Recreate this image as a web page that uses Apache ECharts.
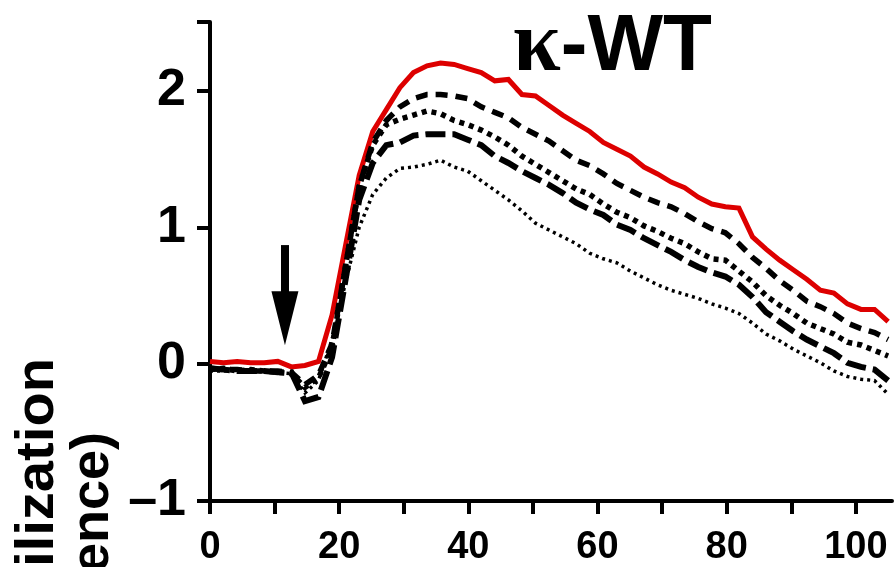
<!DOCTYPE html>
<html><head><meta charset="utf-8">
<script src="https://cdn.jsdelivr.net/npm/echarts@6/dist/echarts.min.js"></script>
<style>html,body{margin:0;padding:0;background:#fff}#c{width:895px;height:567px}</style>
</head><body><div id="c"></div>
<script>
// time (s)
const times = [0,2.1,4.2,6.3,8.4,10.5,12.6,14.7,16.8,18.9,21,23.1,25.2,27.3,29.4,31.5,33.6,35.7,37.8,39.9,42,44.1,46.2,48.3,50.4,52.5,54.6,56.7,58.8,60.9,63,65.1,67.2,69.3,71.4,73.5,75.6,77.7,79.8,81.9,84,86.1,88.2,90.3,92.4,94.5,96.6,98.7,100.8,102.9,105];
const redSolid = [0.02,0.01,0.02,0.01,0.01,0.02,-0.02,-0.01,0.02, 0.36,0.87,1.38,1.70,1.86,2.02,2.13,2.18,2.20,2.19, 2.16,2.13,2.07,2.08,1.97,1.96,1.89,1.82,1.76,1.70, 1.62,1.57,1.52,1.44,1.39,1.33,1.29,1.22,1.17,1.15, 1.14,0.93,0.84,0.76,0.69,0.62,0.54,0.52,0.44,0.40, 0.40,0.31];
const shortDash = [-0.03,-0.04,-0.04,-0.05,-0.05,-0.05,-0.06,-0.15,-0.08, 0.15,0.72,1.30,1.62,1.78,1.88,1.94,1.97,1.97,1.96, 1.94,1.88,1.84,1.80,1.73,1.68,1.63,1.56,1.49,1.45, 1.39,1.32,1.27,1.22,1.18,1.15,1.10,1.04,0.99,0.96, 0.88,0.78,0.70,0.61,0.54,0.46,0.42,0.37,0.30,0.26, 0.23,0.18];
const squareDot = [-0.04,-0.03,-0.05,-0.04,-0.05,-0.06,-0.07,-0.17,-0.10, 0.12,0.72,1.30,1.60,1.75,1.79,1.82,1.85,1.83,1.78, 1.75,1.71,1.66,1.60,1.52,1.46,1.40,1.34,1.28,1.24, 1.17,1.11,1.07,1.01,0.97,0.92,0.88,0.82,0.77,0.76, 0.68,0.60,0.50,0.43,0.37,0.30,0.26,0.22,0.16,0.14, 0.10,0.06];
const longDash = [-0.03,-0.04,-0.05,-0.05,-0.05,-0.06,-0.06,-0.27,-0.24, 0.05,0.62,1.20,1.47,1.60,1.62,1.67,1.68,1.68,1.68, 1.64,1.60,1.52,1.47,1.41,1.36,1.31,1.25,1.18,1.13, 1.09,1.02,0.98,0.92,0.87,0.82,0.76,0.71,0.67,0.64, 0.58,0.49,0.38,0.31,0.24,0.18,0.13,0.08,0.01,-0.02, -0.04,-0.12];
const fineDot = [-0.05,-0.05,-0.04,-0.06,-0.05,-0.06,-0.07,-0.21,-0.12, 0.18,0.60,1.00,1.24,1.36,1.43,1.44,1.46,1.49,1.44, 1.41,1.34,1.27,1.20,1.12,1.03,0.98,0.93,0.88,0.81, 0.77,0.74,0.68,0.63,0.58,0.54,0.51,0.48,0.44,0.41, 0.37,0.30,0.22,0.17,0.11,0.06,0.01,-0.05,-0.09,-0.11, -0.12,-0.22];
const xTicks = [0,10,20,30,40,50,60,70,80,90,100];
const xLabels = [0,20,40,60,80,100];
const yTicks = [-1,0,1,2,2.5];
const yLabels = [-1,0,1,2];
const arrowX = 11.6, arrowTop = 0.87, arrowEnd = 0.335;

const pair = arr => times.map((t,i)=>[t, arr[i]]);
const FONT = '"Liberation Sans", Arial, sans-serif';
const chart = echarts.init(document.getElementById('c'), null, {renderer:'canvas'});
function mk(name, arr, color, width, type, extra) {
  return Object.assign({
    name, type:'line', data: pair(arr), showSymbol:false, symbol:'none', animation:false, silent:true,
    lineStyle:{color, width, type, cap:'butt', join:'miter'}
  }, extra||{});
}
chart.setOption({
  animation:false,
  backgroundColor:'#fff',
  grid:{left:210, right:3, top:22, bottom:64, containLabel:false},
  title:{
    text:'{k|κ}{w|-WT}', left:508, top:0,
    textStyle:{rich:{
      k:{fontFamily:'"Liberation Serif", serif', fontSize:86, fontWeight:'bold', color:'#000'},
      w:{fontFamily:FONT, fontSize:80, fontWeight:'bold', color:'#000'}
    }}
  },
  xAxis:{
    type:'value', min:0, max:105.6, interval:10,
    axisLine:{show:true, onZero:false, lineStyle:{color:'#000', width:4}},
    axisTick:{show:true, length:13, inside:false, lineStyle:{color:'#000', width:4}, customValues:xTicks},
    axisLabel:{show:true, margin:28, color:'#000', fontFamily:FONT, fontWeight:'bold', fontSize:38, customValues:xLabels},
    splitLine:{show:false}
  },
  yAxis:{
    type:'value', min:-1, max:2.5, interval:1,
    axisLine:{show:true, onZero:false, lineStyle:{color:'#000', width:4}},
    axisTick:{show:true, length:13, lineStyle:{color:'#000', width:4}, customValues:yTicks},
    axisLabel:{show:true, margin:24, color:'#000', fontFamily:FONT, fontWeight:'bold', fontSize:52,
      customValues:yLabels, formatter:v=>String(v).replace('-', '\u2013')},
    splitLine:{show:false}
  },
  graphic:[
    {type:'text', x:38, y:358, rotation:Math.PI/2, scaleX:1.04, silent:true,
      style:{text:'Ca\u00b2\u207a mobilization', font:'bold 54px '+FONT, fill:'#000', textAlign:'right', textVerticalAlign:'middle', align:'right', verticalAlign:'middle'}},
    {type:'text', x:93, y:432, rotation:Math.PI/2, silent:true,
      style:{text:'(fluorescence)', font:'bold 54px '+FONT, fill:'#000', textAlign:'right', textVerticalAlign:'middle', align:'right', verticalAlign:'middle'}}
  ],
  series:[
    mk('WT', redSolid, '#dd0000', 5, 'solid', {z:2,
      markLine:{silent:true, animation:false, symbol:['none','triangle'], symbolSize:[27,54],
        label:{show:false}, emphasis:{disabled:true},
        lineStyle:{color:'#000', width:8, type:'solid'},
        data:[[{coord:[arrowX, arrowTop]},{coord:[arrowX, arrowEnd]}]]}}),
    mk('s2', shortDash, '#000', 5.5, [12,8], {z:3}),
    mk('s3', squareDot, '#000', 5.5, [5,5], {z:3}),
    mk('s4', longDash, '#000', 6, [20,7], {z:3}),
    mk('s5', fineDot, '#000', 3.5, [3,4], {z:3})
  ]
});
</script></body></html>
